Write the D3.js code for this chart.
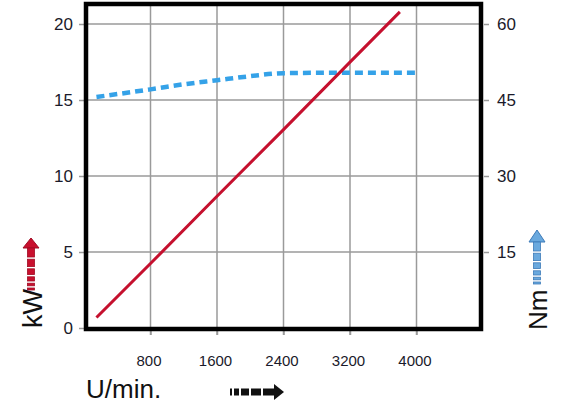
<!DOCTYPE html>
<html><head><meta charset="utf-8">
<script src="https://cdn.jsdelivr.net/npm/d3@7"></script>
<style>
html,body{margin:0;padding:0;background:#fff;}
svg{display:block;font-family:"Liberation Sans",Arial,sans-serif;}
</style></head>
<body><svg id="c" width="570" height="416"></svg>
<script>
// Data
const rpmTicks = [800, 1600, 2400, 3200, 4000];
const kwTicks = [0, 5, 10, 15, 20];
const nmTicks = [15, 30, 45, 60];
const powerRpm = [150, 800, 1600, 2400, 3200, 3800];
const powerKw = [0.69, 4.24, 8.67, 13.05, 17.49, 20.8];
const torqueRpm = [150, 800, 1200, 1600, 2000, 2400, 3200, 4000];
const torqueNm = [45.6, 47.1, 48.1, 48.9, 49.7, 50.3, 50.4, 50.4];

const svg = d3.select('#c');
const x = d3.scaleLinear().domain([0, 4800]).range([84, 483]);
const yL = d3.scaleLinear().domain([0, 20]).range([328, 24]);
const yR = d3.scaleLinear().domain([0, 60]).range([328, 24]);

const fTop = 4, fBottom = 329, fLeft = 86, fRight = 481;
const gridCol = '#9a9a9a';
const txtCol = '#1a1a2a';

// grid
svg.append('g').selectAll('line').data(rpmTicks).join('line')
  .attr('x1', d => x(d)).attr('x2', d => x(d))
  .attr('y1', fTop).attr('y2', fBottom + 6)
  .attr('stroke', gridCol).attr('stroke-width', 1.5);
svg.append('g').selectAll('line').data(kwTicks.filter(d => d > 0)).join('line')
  .attr('x1', fLeft).attr('x2', fRight)
  .attr('y1', d => yL(d)).attr('y2', d => yL(d))
  .attr('stroke', gridCol).attr('stroke-width', 1.5);

// axes
const fmt = d3.format('d');
const axL = svg.append('g').attr('transform', 'translate(84,0)')
  .call(d3.axisLeft(yL).tickValues(kwTicks).tickFormat(fmt).tickSize(5).tickPadding(6));
const axR = svg.append('g').attr('transform', 'translate(484,0)')
  .call(d3.axisRight(yR).tickValues(nmTicks).tickFormat(fmt).tickSize(5).tickPadding(8));
const axB = svg.append('g').attr('transform', 'translate(0,331)')
  .call(d3.axisBottom(x).tickValues(rpmTicks).tickFormat(fmt).tickSize(4).tickPadding(20));
[axL, axR, axB].forEach(a => {
  a.select('.domain').remove();
  a.selectAll('.tick line').attr('stroke', gridCol).attr('stroke-width', 1.5);
  a.selectAll('text').attr('fill', txtCol).attr('font-family', '"Liberation Sans",Arial,sans-serif');
});
axL.selectAll('text').attr('font-size', 17);
axR.selectAll('text').attr('font-size', 17);
axB.selectAll('text').attr('font-size', 15).attr('dx', -2);

// lines
const torque = torqueRpm.map((r, i) => [r, torqueNm[i]]);
const power = powerRpm.map((r, i) => [r, powerKw[i]]);
svg.append('path').datum(torque)
  .attr('d', d3.line().x(d => x(d[0])).y(d => yR(d[1])).curve(d3.curveMonotoneX))
  .attr('fill', 'none').attr('stroke', '#35a2e8').attr('stroke-width', 4.5)
  .attr('stroke-dasharray', '8,5');
svg.append('path').datum(power)
  .attr('d', d3.line().x(d => x(d[0])).y(d => yL(d[1])))
  .attr('fill', 'none').attr('stroke', '#c5102e').attr('stroke-width', 3);

// frame
svg.append('rect').attr('x', fLeft).attr('y', fTop)
  .attr('width', fRight - fLeft).attr('height', fBottom - fTop)
  .attr('fill', 'none').attr('stroke', '#000').attr('stroke-width', 4.5);

// labels
svg.append('text').attr('x', 86).attr('y', 398).attr('font-size', 26)
  .attr('fill', '#111').text('U/min.');
svg.append('text').attr('transform', 'translate(42,328) rotate(-90)')
  .attr('font-size', 27).attr('fill', '#111').text('kW');
svg.append('text').attr('transform', 'translate(547,330) rotate(-90)')
  .attr('font-size', 26).attr('fill', '#111').text('Nm');

// decorative arrows
function vArrow(cx, tip, base, end, fill, stroke) {
  const g = svg.append('g');
  g.append('path').attr('d', `M${cx},${tip} L${cx + 8},${base} L${cx + 3.5},${base} L${cx - 3.5},${base} L${cx - 8},${base} Z`)
    .attr('fill', fill).attr('stroke', stroke).attr('stroke-width', 1);
  const segs = [];
  let y = base, h = 9;
  while (y < end) { segs.push([y, Math.min(h, end - y)]); y += h + 2.2; h = Math.max(2, h - 1.6); }
  g.selectAll('rect').data(segs).join('rect')
    .attr('x', cx - 3.5).attr('width', 7).attr('y', d => d[0]).attr('height', d => d[1])
    .attr('fill', fill).attr('stroke', stroke).attr('stroke-width', 0.8);
}
vArrow(31, 238, 248, 290, '#c8102e', '#a00c24');
vArrow(537, 230, 242, 284, '#6aa9de', '#3d7ab8');

// bottom arrow
const bg = svg.append('g');
const hs = [[230, 2], [234, 5], [241, 8], [251, 10], [263, 12]];
bg.selectAll('rect').data(hs).join('rect')
  .attr('x', d => d[0]).attr('width', d => d[1]).attr('y', 388.5).attr('height', 7)
  .attr('fill', '#111');
bg.append('path').attr('d', 'M274,384 L284,392 L274,400 Z').attr('fill', '#111');
</script></body></html>
